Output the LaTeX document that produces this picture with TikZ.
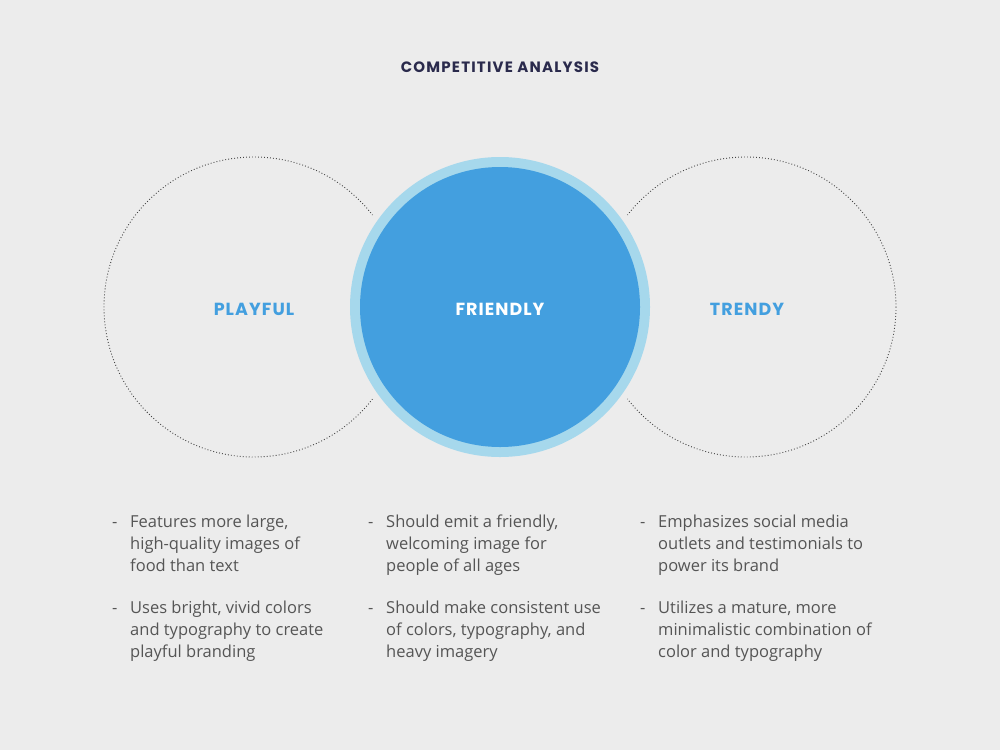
\documentclass[tikz,border=0pt]{standalone}
\usepackage{fontspec}
\setmainfont{Open Sans}
\newfontfamily\headfont[LetterSpace=6]{Poppins}
\newfontfamily\titlefont[LetterSpace=8]{Poppins}
\definecolor{bg}{HTML}{ECECEC}
\definecolor{navy}{HTML}{2A2A4C}
\definecolor{core}{HTML}{439FDF}
\definecolor{halo}{HTML}{A6D8EC}
\definecolor{body}{HTML}{555555}
\definecolor{dots}{HTML}{444444}
\tikzset{
  ring/.style={draw=dots, line width=0.9pt, dash pattern=on 0.9pt off 2.1pt},
  tag/.style={font=\headfont\bfseries\fontsize{17.5}{20}\selectfont, inner sep=0pt},
  % multi-line items are anchored on the baseline of their last line
  item/.style={font=\fontsize{16.5}{22}\selectfont, text=body, align=left, anchor=base west, inner sep=0pt},
  bullet/.style={font=\fontsize{16.5}{22}\selectfont, text=body, anchor=base west, inner sep=0pt},
}
\begin{document}
\begin{tikzpicture}[x=1pt,y=-1pt]
  \fill[bg] (0,0) rectangle (1000,750);
  \useasboundingbox (0,0) rectangle (1000,750);

  \node[font=\titlefont\bfseries\fontsize{15}{17}\selectfont, text=navy, inner sep=0pt] (title) at (500,67) {COMPETITIVE ANALYSIS};

  % side circles, dotted outlines
  \draw[ring] (254,307) circle[radius=150];
  \draw[ring] (746,307) circle[radius=150];

  % central circle with halo, cut out of the side outlines
  \fill[bg] (500,307) circle[radius=157];
  \fill[halo] (500,307) circle[radius=150];
  \fill[core] (500,307) circle[radius=140];

  \node[tag, text=core] (playful) at (254,309) {PLAYFUL};
  \node[tag, text=white] (friendly) at (500,309) {FRIENDLY};
  \node[tag, text=core] (trendy) at (747,309) {TRENDY};

  % left column
  \node[bullet] (d1) at (112,527) {-};
  \node[item] (t1) at (130,571) {Features more large,\\high-quality images of\\food than text};
  \node[bullet] (d2) at (112,613) {-};
  \node[item] (t2) at (130,657) {Uses bright, vivid colors\\and typography to create\\playful branding};

  % middle column
  \node[bullet] (d3) at (368,527) {-};
  \node[item] (t3) at (386,571) {Should emit a friendly,\\welcoming image for\\people of all ages};
  \node[bullet] (d4) at (368,613) {-};
  \node[item] (t4) at (386,657) {Should make consistent use\\of colors, typography, and\\heavy imagery};

  % right column
  \node[bullet] (d5) at (640,527) {-};
  \node[item] (t5) at (658,571) {Emphasizes social media\\outlets and testimonials to\\power its brand};
  \node[bullet] (d6) at (640,613) {-};
  \node[item] (t6) at (658,657) {Utilizes a mature, more\\minimalistic combination of\\color and typography};
\end{tikzpicture}
\end{document}
